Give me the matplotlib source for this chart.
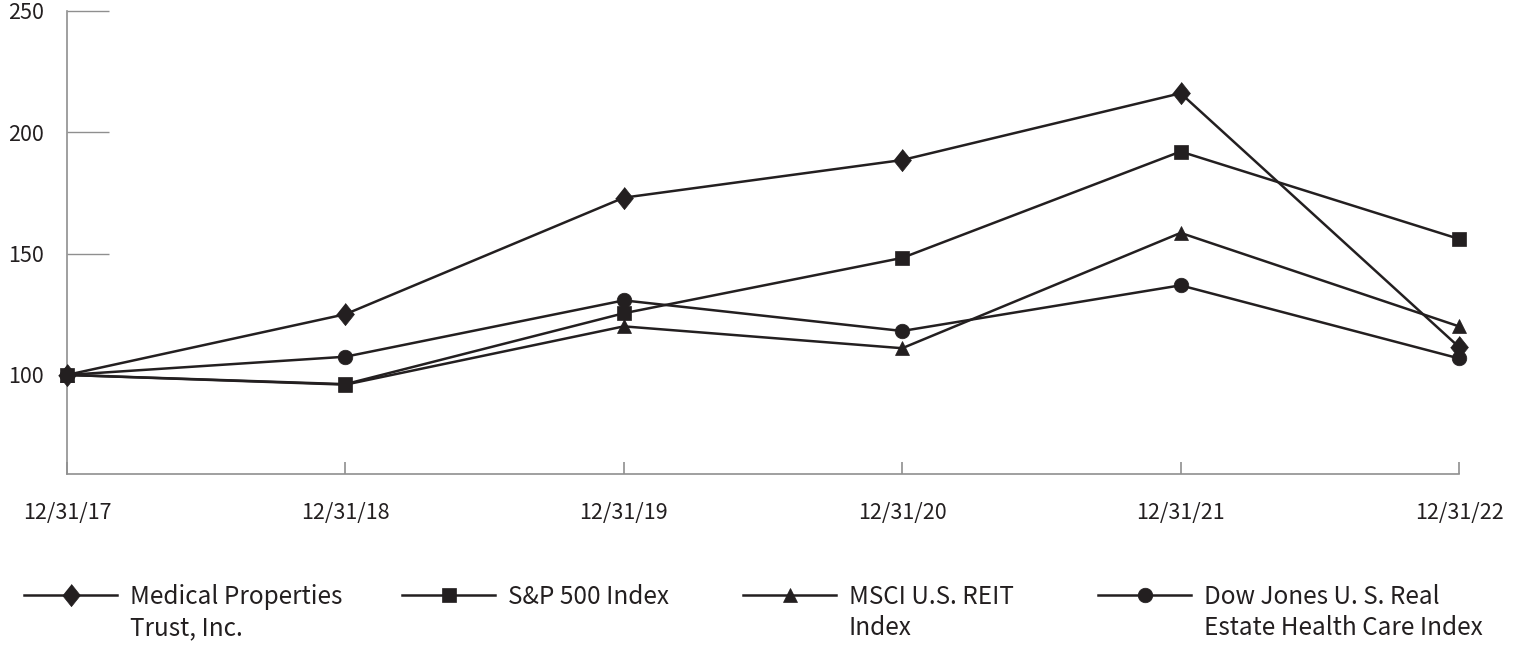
import numpy as np
import matplotlib
matplotlib.use('Agg')
import matplotlib.pyplot as plt

plt.rcParams['font.family'] = ['Noto Sans CJK JP', 'DejaVu Sans']

dates = ['12/31/17', '12/31/18', '12/31/19', '12/31/20', '12/31/21', '12/31/22']
mpt = [100, 125, 173, 188.5, 216, 111.5]
sp500 = [100, 96.2, 125.4, 148.2, 192, 156]
msci_reit = [100, 96, 120, 111, 158.5, 120]
dj_health = [100, 107.5, 130.7, 118.1, 136.9, 106.8]

series_names = [('Medical Properties', 'Trust, Inc.'),
                ('S&P 500 Index', ''),
                ('MSCI U.S. REIT', 'Index'),
                ('Dow Jones U. S. Real', 'Estate Health Care Index')]

ink = '#231f20'
grey = '#8f8f8f'
diamond = [(0, 1), (0.8, 0), (0, -1), (-0.8, 0)]
styles = [(diamond, 16, 3), ('s', 10, 5), ('^', 10, 4), ('o', 10.5, 3)]
legend_x = [24, 402, 743, 1098]
legend_size = 17.5

fig = plt.figure(figsize=(15.21, 6.45), dpi=100)
ax = fig.add_axes([67/1521, 1 - 474/645, (1459 - 67)/1521, (474 - 10.7)/645])

x = np.arange(len(dates))
lines = []
for vals, (m, ms, z) in zip([mpt, sp500, msci_reit, dj_health], styles):
    ln, = ax.plot(x, vals, color=ink, lw=1.8, marker=m, markersize=ms,
                  markerfacecolor=ink, markeredgecolor=ink, markeredgewidth=0.5,
                  clip_on=False, zorder=z)
    lines.append(ln)

ax.set_xlim(0, 5)
ax.set_ylim(59.2, 250)
ax.set_xticks(x)
ax.set_xticklabels(dates)
ax.set_yticks([100, 150, 200, 250])

for s in ['top', 'right']:
    ax.spines[s].set_visible(False)
for s in ['left', 'bottom']:
    ax.spines[s].set_color(grey)
    ax.spines[s].set_linewidth(1.2)

ax.tick_params(axis='y', direction='in', length=30, width=1, color=grey,
               pad=16.5, labelsize=15.5, labelcolor=ink)
ax.tick_params(axis='x', direction='in', length=9, width=1.2, color=grey,
               pad=20, labelsize=15.5, labelcolor=ink)

# legend, one block per series
legs = []
for ln, (first, second), lx in zip(lines, series_names, legend_x):
    leg = fig.legend([ln], [first], loc='center left',
                     bbox_to_anchor=(lx/1521, 1 - 597/645),
                     frameon=False, handlelength=67/legend_size,
                     handletextpad=9/legend_size, borderpad=0, borderaxespad=0,
                     labelcolor=ink, fontsize=legend_size)
    legs.append(leg)

# hang the second line of each label under the first
fig.canvas.draw()
inv = fig.transFigure.inverted()
for leg, (first, second) in zip(legs, series_names):
    if not second:
        continue
    bb = leg.get_texts()[0].get_window_extent()
    x0, y0 = inv.transform((bb.x0, (bb.y0 + bb.y1) / 2 - 31))
    fig.text(x0, y0, second, ha='left', va='center', color=ink,
             size=legend_size)

fig.savefig('out.png', dpi=100)
